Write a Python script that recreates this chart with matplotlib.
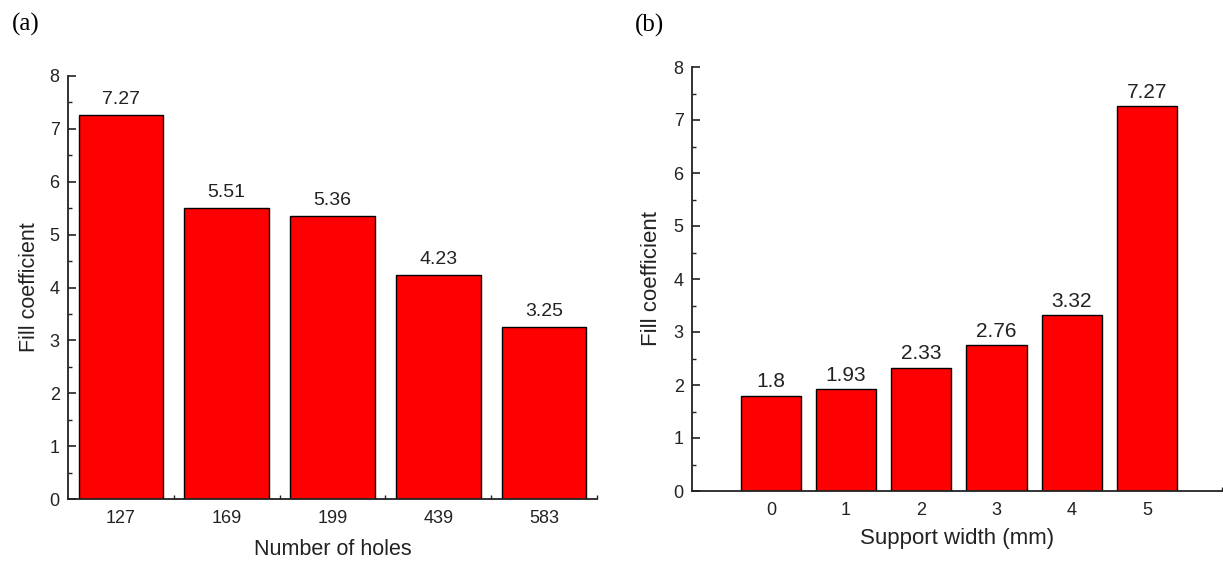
import matplotlib
matplotlib.use("Agg")
import matplotlib.pyplot as plt
from matplotlib.ticker import MultipleLocator, FixedLocator

plt.rcParams['font.family'] = ['Liberation Sans', 'DejaVu Sans']

holes_labels = ["127", "169", "199", "439", "583"]
holes_values = [7.27, 5.51, 5.36, 4.23, 3.25]
holes_text = ["7.27", "5.51", "5.36", "4.23", "3.25"]

width_labels = ["0", "1", "2", "3", "4", "5"]
width_values = [1.8, 1.93, 2.33, 2.76, 3.32, 7.27]
width_text = ["1.8", "1.93", "2.33", "2.76", "3.32", "7.27"]

W, H = 1223, 563
fig = plt.figure(figsize=(W / 100, H / 100), dpi=100)

def px_axes(l, r, t, b):
    return fig.add_axes([l / W, (H - b) / H, (r - l) / W, (b - t) / H])

ax1 = px_axes(68, 597, 76, 499)
ax2 = px_axes(692, 1222, 67, 491)

TXT = "#222222"

def style(ax, ticksize):
    for s in ["top", "right"]:
        ax.spines[s].set_visible(False)
    for s in ["left", "bottom"]:
        ax.spines[s].set_linewidth(1.3)
        ax.spines[s].set_color(TXT)
    ax.set_ylim(0, 8)
    ax.yaxis.set_major_locator(MultipleLocator(1))
    ax.yaxis.set_minor_locator(MultipleLocator(0.5))
    ax.tick_params(axis="both", which="major", direction="in", length=6,
                   width=1.2, labelsize=ticksize, colors=TXT, pad=6)
    ax.tick_params(axis="both", which="minor", direction="in", length=3,
                   width=1.0, colors=TXT)
    ax.tick_params(axis="x", which="major", pad=8)

# Panel (a)
x1 = list(range(len(holes_labels)))
ax1.bar(x1, holes_values, width=0.8, color="#ff0000", edgecolor="black",
        linewidth=1.0, zorder=2)
for xi, v, t in zip(x1, holes_values, holes_text):
    ax1.annotate(t, (xi, v), xytext=(0, 5), textcoords="offset points",
                 ha="center", va="bottom", fontsize=14, color=TXT)
ax1.set_xlim(-0.5, 4.5)
ax1.set_xticks(x1)
ax1.set_xticklabels(holes_labels)
ax1.xaxis.set_minor_locator(FixedLocator([0.5, 1.5, 2.5, 3.5, 4.5]))
style(ax1, 13)
ax1.set_xlabel("Number of holes", fontsize=15.5, color=TXT)
ax1.set_ylabel("Fill coefficient", fontsize=15.5, color=TXT)
ax1.xaxis.set_label_coords(0.5, -0.095)
ax1.yaxis.set_label_coords(-0.052, 0.5)

# Panel (b)
x2 = list(range(len(width_labels)))
ax2.bar(x2, width_values, width=0.8, color="#ff0000", edgecolor="black",
        linewidth=1.0, zorder=2)
for xi, v, t in zip(x2, width_values, width_text):
    ax2.annotate(t, (xi, v), xytext=(0, 3), textcoords="offset points",
                 ha="center", va="bottom", fontsize=15, color=TXT)
ax2.set_xlim(-1.05, 6.0)
ax2.set_xticks(x2)
ax2.set_xticklabels(width_labels)
ax2.xaxis.set_minor_locator(FixedLocator([6.0]))
style(ax2, 13)
ax2.set_xlabel("Support width (mm)", fontsize=16, color=TXT)
ax2.set_ylabel("Fill coefficient", fontsize=16, color=TXT)
ax2.xaxis.set_label_coords(0.5, -0.088)
ax2.yaxis.set_label_coords(-0.056, 0.5)

fig.text(12 / W, 1 - 24 / H, "(a)", fontsize=18, family=["Liberation Serif", "DejaVu Serif"],
         ha="left", va="center")
fig.text(635 / W, 1 - 25 / H, "(b)", fontsize=18, family=["Liberation Serif", "DejaVu Serif"],
         ha="left", va="center")

fig.savefig("out.png", dpi=100)
